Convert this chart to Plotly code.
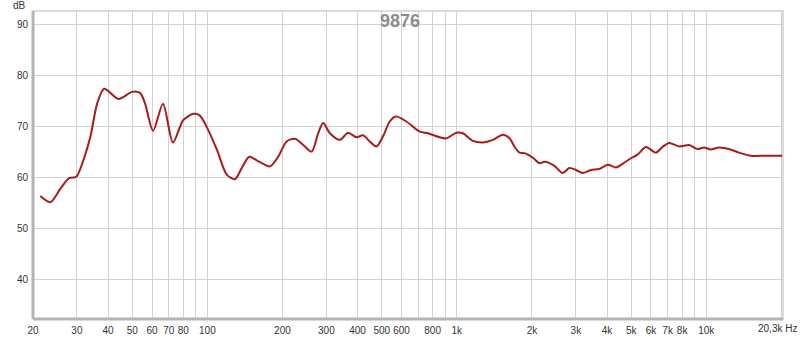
import plotly.graph_objects as go
import math

freq = [21.4, 23.5, 25.8, 27.9, 29.6, 30.1, 31.9, 34.0, 36.2, 38.6, 44.0, 49.9, 53.7, 56.2, 60.6, 66.4, 72.8,
        80.1, 88.0, 93.1, 99.2, 109.2, 119.6, 129.1, 137.4, 147.3, 160.1, 178.3, 192.3, 207.8, 224.4,
        242.3, 261.8, 278.2, 291.3, 309.9, 339.7, 366.7, 396.2, 420.9, 447.7, 476.2, 505.9, 538.3,
        568.9, 627.8, 709.5, 766.2, 853.1, 908, 995.6, 1057.7, 1159.9, 1271.9, 1394.7, 1529, 1625.6,
        1702, 1783, 1867, 2030, 2143, 2254, 2461, 2656, 2825, 3004, 3191, 3449, 3724, 4024, 4347,
        4619, 4989, 5300, 5726, 6281, 6672, 7096, 7781, 8531, 9212, 9797, 10420, 11247, 12331,
        13521, 15065, 17298, 20300]
db = [56.3, 55.1, 57.8, 59.8, 60.0, 60.3, 63.4, 68.0, 74.5, 77.3, 75.3, 76.7, 76.5, 74.5, 69.1, 74.4, 66.8,
      71.2, 72.4, 72.1, 69.9, 65.4, 60.5, 59.6, 61.8, 64.0, 63.1, 62.1, 64.0, 67.0, 67.5,
      66.3, 65.0, 68.6, 70.6, 68.6, 67.3, 68.7, 67.8, 68.2, 67.0, 66.0, 68.0, 70.9,
      71.9, 70.9, 68.9, 68.6, 67.8, 67.6, 68.7, 68.6, 67.1, 66.8, 67.3, 68.3, 67.6,
      66.0, 64.8, 64.7, 63.7, 62.7, 63.0, 62.2, 60.8, 61.8, 61.4, 60.8, 61.4, 61.6, 62.4, 61.9,
      62.6, 63.7, 64.4, 65.9, 64.8, 65.9, 66.7, 66.0, 66.3, 65.5, 65.8, 65.4, 65.8, 65.5,
      64.8, 64.2, 64.2, 64.2]

x_grid = [20, 30, 40, 50, 60, 70, 80, 90, 100, 200, 300, 400, 500, 600, 700, 800, 900,
          1000, 2000, 3000, 4000, 5000, 6000, 7000, 8000, 9000, 10000, 20000]
x_labels = ["20", "30", "40", "50", "60", "70", "80", "", "100", "200", "300", "400", "500", "600", "",
            "800", "", "1k", "2k", "3k", "4k", "5k", "6k", "7k", "8k", "", "10k", ""]
y_ticks = [40, 50, 60, 70, 80, 90]

FONT = "Liberation Sans"

fig = go.Figure()
fig.add_trace(go.Scatter(x=freq, y=db, mode="lines",
                         line=dict(color="#a81b1b", width=2, shape="spline", smoothing=0.8),
                         hoverinfo="skip"))

fig.update_layout(
    width=800, height=337,
    margin=dict(l=33, r=17, t=11, b=18, autoexpand=False),
    paper_bgcolor="white", plot_bgcolor="white",
    showlegend=False,
    font=dict(family=FONT, size=10, color="#333333"),
    xaxis=dict(type="log", range=[math.log10(20), math.log10(20300)], automargin=False,
               tickvals=x_grid, ticktext=x_labels, showgrid=True, gridcolor="#d2d2d2", gridwidth=1,
               ticks="", zeroline=False, showline=False, ticklabelstandoff=4,
               tickfont=dict(size=10, color="#333333")),
    yaxis=dict(range=[32.2, 92.55], tickvals=y_ticks, showgrid=True, gridcolor="#d2d2d2", gridwidth=1,
               ticks="", zeroline=False, showline=False, ticklabelstandoff=4, automargin=False,
               tickfont=dict(size=10, color="#333333")),
)

# frame
fig.add_shape(type="rect", xref="paper", yref="paper", x0=0, x1=1, y0=0, y1=1,
              line=dict(color="#cfcfcf", width=1.5))
fig.add_shape(type="line", xref="paper", yref="paper", x0=0, x1=0, y0=0, y1=1,
              line=dict(color="#b4b4b4", width=3))
fig.add_shape(type="line", xref="paper", yref="paper", x0=0, x1=1, y0=0, y1=0,
              line=dict(color="#b4b4b4", width=3))

fig.add_annotation(text="9876", xref="paper", yref="paper", x=(400 - 33) / 750, y=1 - (21 - 11) / 308,
                   showarrow=False, xanchor="center", yanchor="middle",
                   font=dict(family=FONT, size=18, color="#8c8c8c", weight="bold"))
fig.add_annotation(text="dB", xref="paper", yref="paper", x=-5 / 750, y=1 + 6 / 308,
                   showarrow=False, xanchor="right", yanchor="middle",
                   font=dict(family=FONT, size=10, color="#333333"))
fig.add_annotation(text="20,3k Hz", xref="paper", yref="paper", x=(799 - 33) / 750, y=-(328 - 319) / 308,
                   showarrow=False, xanchor="right", yanchor="middle",
                   font=dict(family=FONT, size=10, color="#333333"))

fig.write_html("out.html")
